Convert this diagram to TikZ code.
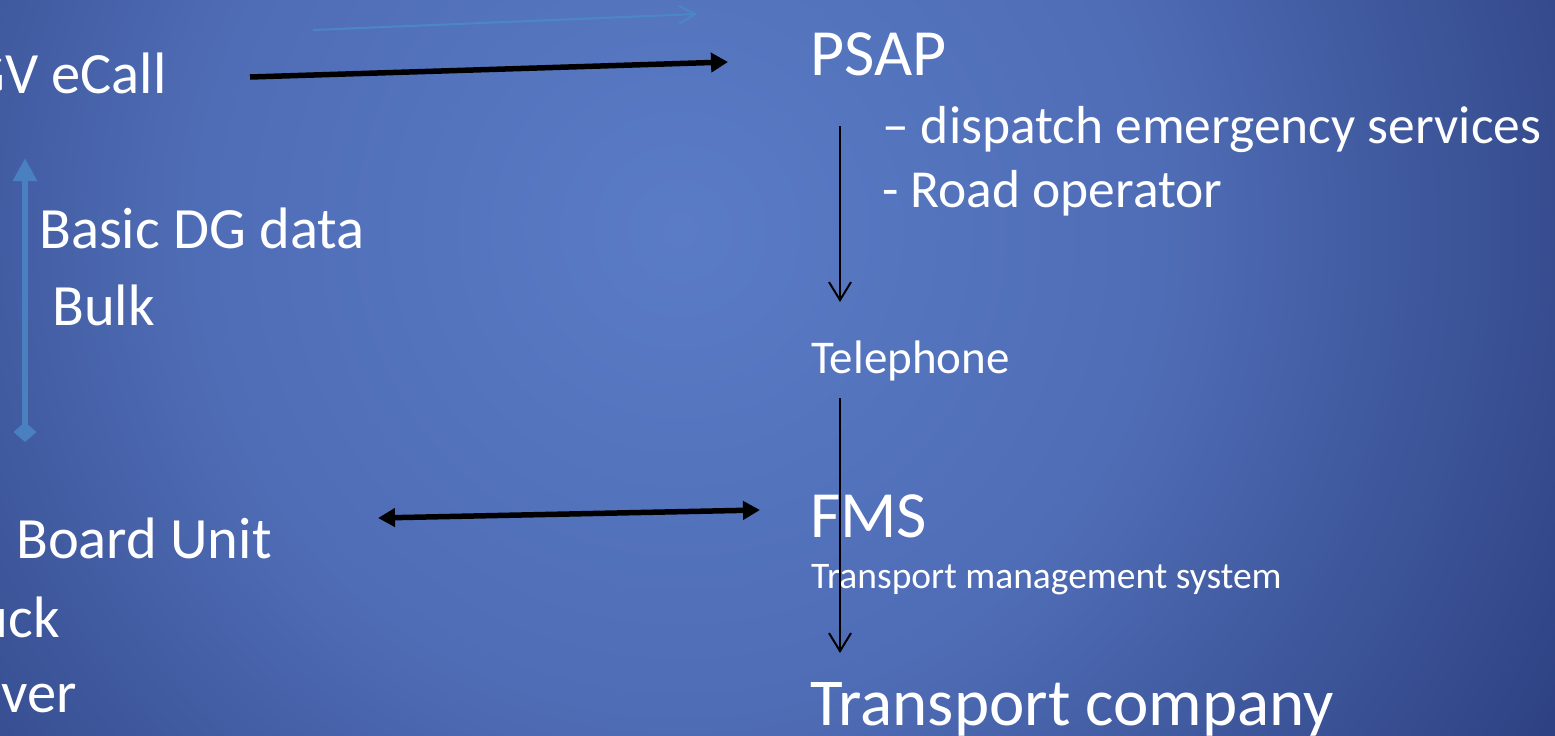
\documentclass[tikz,border=0pt]{standalone}
\usepackage{fontspec}
\setmainfont{Carlito}
\usetikzlibrary{arrows.meta}

\definecolor{bginner}{HTML}{5A7BC6}
\definecolor{bgmid}{HTML}{4F6DB6}
\definecolor{bgouter}{HTML}{2E4283}
\definecolor{dgblue}{HTML}{4A7FC0}
\definecolor{faintblue}{HTML}{4A8AC8}
\pgfdeclareradialshading{slidebg}{\pgfpoint{0bp}{0bp}}{color(0bp)=(bginner); color(12bp)=(bgmid); color(25bp)=(bgouter); color(50bp)=(bgouter)}

\begin{document}
\begin{tikzpicture}[x=1pt,y=-1pt,>=Stealth,
    every node/.style={inner sep=0pt,text=white,anchor=base west},
    bigtext/.style={font=\fontsize{66}{72}\selectfont},
    bodytext/.style={font=\fontsize{58.5}{66}\selectfont},
    subtext/.style={font=\fontsize{53.5}{60}\selectfont},
    teltext/.style={font=\fontsize{47}{52}\selectfont},
    smalltext/.style={font=\fontsize{37.5}{42}\selectfont},
    heavy/.style={line width=5.5pt,draw=black},
    thinline/.style={line width=2pt,draw=black,-{Straight Barb[length=18pt,width=22pt]}}]
    \useasboundingbox (0,0) rectangle (1555,736);
    \clip (0,0) rectangle (1555,736);
    \fill[bgouter] (0,0) rectangle (1555,736);
    \shade[shading=slidebg] (680,230) circle (1000pt);

    % left side
    \node[bodytext,anchor=base east] (ecall) at (167,93) {HGV eCall};
    \node[bodytext] (basic) at (39,248) {Basic DG data};
    \node[bodytext] (bulk) at (52,325) {Bulk};
    \node[bodytext] (obu) at (16,558) {Board Unit};
    \node[bodytext,anchor=base east] (truck) at (60,637) {Truck};
    \node[bodytext,anchor=base east] (driver) at (77,712) {Driver};

    % right side
    \node[bigtext] (psap) at (810,75) {PSAP};
    \node[subtext] (dispatch) at (882,143) {– dispatch emergency services};
    \node[subtext] (road) at (882,207) {- Road operator};
    \node[teltext] (tel) at (811,373) {Telephone};
    \node[bigtext] (fms) at (810,537) {FMS};
    \node[smalltext] (tms) at (811,588) {Transport management system};
    \node[bigtext,font=\fontsize{67}{72}\selectfont] (company) at (810,725) {Transport company};

    \coordinate (ecallout) at (250,77);
    \coordinate (psapin) at (728,62);
    \coordinate (faintA) at (313,30);
    \coordinate (faintB) at (697,14);
    \coordinate (dgbottom) at (25,442);
    \coordinate (dgtop) at (25,158);
    \coordinate (obuout) at (378,518);
    \coordinate (fmsin) at (760,510);
    \coordinate (psapdown) at (840,126);
    \coordinate (telin) at (840,302);
    \coordinate (teldown) at (840,398);
    \coordinate (companyin) at (840,653);

    \draw[heavy,-{Triangle[length=17pt,width=19pt]}] (ecallout) -- (psapin);
    \draw[line width=2pt,draw=faintblue,opacity=0.85,-{Straight Barb[length=16pt,width=18pt]}] (faintA) -- (faintB);
    \draw[line width=6pt,draw=dgblue,{Diamond[length=20pt,width=23pt]}-{Triangle[length=23pt,width=23pt]}] (dgbottom) -- (dgtop);
    \draw[heavy,{Triangle[length=17pt,width=18pt]}-{Triangle[length=17pt,width=18pt]}] (obuout) -- (fmsin);
    \draw[thinline] (psapdown) -- (telin);
    \draw[thinline] (teldown) -- (companyin);
\end{tikzpicture}
\end{document}
